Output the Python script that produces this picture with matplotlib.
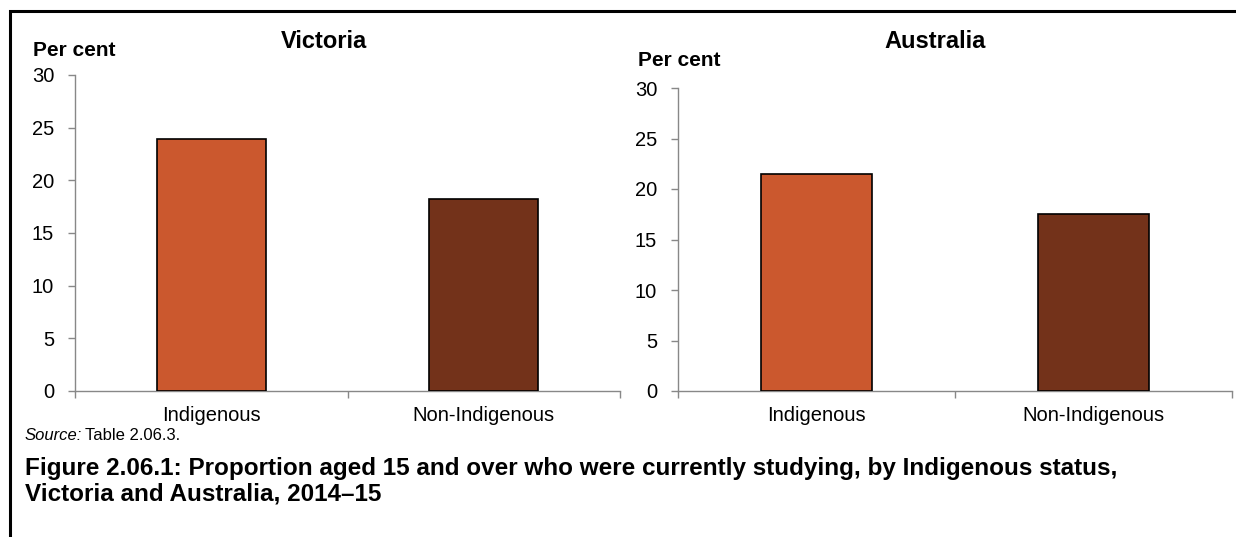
import matplotlib.pyplot as plt
from matplotlib.patches import Rectangle

plt.rcParams['font.family'] = ['Liberation Sans', 'DejaVu Sans']

# data
categories = ['Indigenous', 'Non-Indigenous']
victoria = [23.9, 18.2]
australia = [21.5, 17.5]
bar_colors = ['#CB582E', '#73321A']

W, H = 1236, 537
fig = plt.figure(figsize=(W / 100, H / 100), dpi=100)


def px_axes(x0, y0, x1, y1):
    # axes from pixel box (top-left origin)
    return fig.add_axes([x0 / W, 1 - y1 / H, (x1 - x0) / W, (y1 - y0) / H])


def draw_panel(ax, values):
    x = range(len(categories))
    ax.bar(x, values, width=0.4, color=bar_colors, edgecolor='black', linewidth=1.2, zorder=3)
    ax.set_xlim(-0.5, 1.5)
    ax.set_ylim(0, 30)
    ax.set_yticks(range(0, 31, 5))
    ax.set_xticks(list(x))
    ax.set_xticklabels(categories, fontsize=14.5)
    ax.set_xticks([-0.5, 0.5, 1.5], minor=True)
    ax.tick_params(axis='x', which='major', length=0, pad=11)
    ax.tick_params(axis='x', which='minor', length=5, color='#888888', width=1)
    ax.tick_params(axis='y', length=5, color='#888888', width=1, pad=10, labelsize=14.5)
    for s in ['top', 'right']:
        ax.spines[s].set_visible(False)
    for s in ['left', 'bottom']:
        ax.spines[s].set_color('#888888')
        ax.spines[s].set_linewidth(1)


ax1 = px_axes(75, 75, 620, 391)
draw_panel(ax1, victoria)
ax2 = px_axes(678, 88, 1232, 391)
draw_panel(ax2, australia)

# panel titles and axis labels
fig.text(324 / W, 1 - 41 / H, 'Victoria', fontsize=17, fontweight='bold', ha='center', va='center')
fig.text(935 / W, 1 - 41 / H, 'Australia', fontsize=17, fontweight='bold', ha='center', va='center')
fig.text(33 / W, 1 - 50 / H, 'Per cent', fontsize=15, fontweight='bold', ha='left', va='center')
fig.text(638 / W, 1 - 60 / H, 'Per cent', fontsize=15, fontweight='bold', ha='left', va='center')

# source and caption
fig.text(25 / W, 1 - 436 / H, 'Source:', fontsize=12, style='italic', ha='left', va='center')
fig.text(85 / W, 1 - 436 / H, 'Table 2.06.3.', fontsize=12, ha='left', va='center')
fig.text(25 / W, 1 - 468 / H, 'Figure 2.06.1: Proportion aged 15 and over who were currently studying, by Indigenous status,',
         fontsize=17.5, fontweight='bold', ha='left', va='center')
fig.text(25 / W, 1 - 494 / H, 'Victoria and Australia, 2014\u201315',
         fontsize=17.5, fontweight='bold', ha='left', va='center')

# outer frame (open at right and bottom, as in the reference)
fig.add_artist(Rectangle((10 / W, -0.1), 1.2, 1 - 11 / H + 0.1, transform=fig.transFigure,
                         fill=False, edgecolor='black', linewidth=2.2))

fig.savefig('out.png', dpi=100)
